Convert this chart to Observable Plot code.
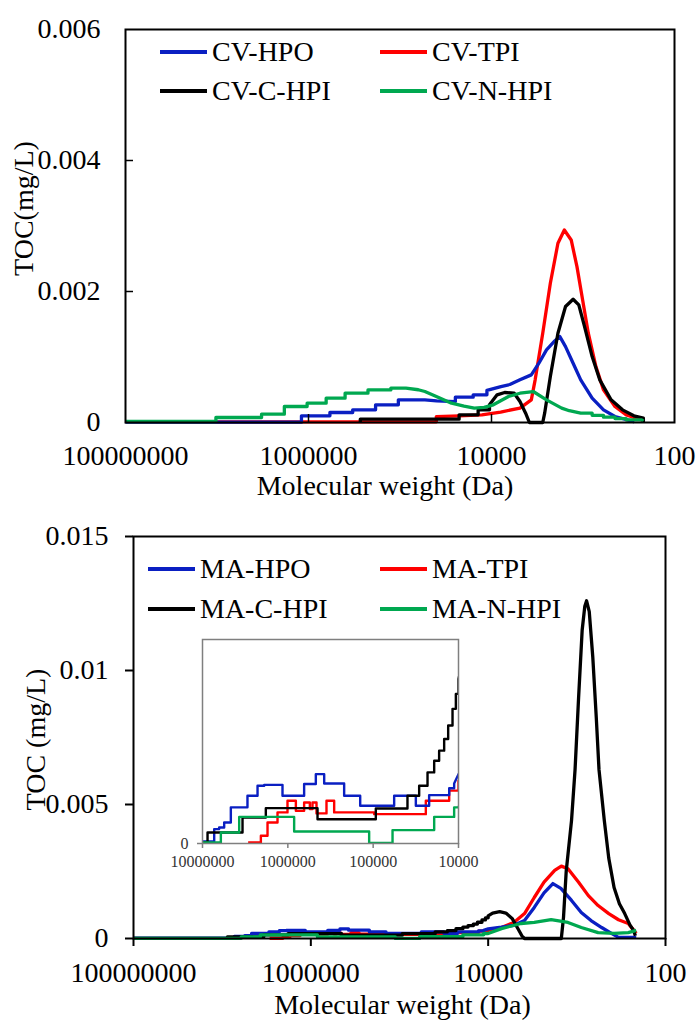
<!DOCTYPE html>
<html>
<head>
<meta charset="utf-8">
<script src="https://cdn.jsdelivr.net/npm/d3@7"></script>
<script src="https://cdn.jsdelivr.net/npm/@observablehq/plot@0.6"></script>
<style>
  html, body { margin: 0; padding: 0; background: #fff; }
  #page { position: relative; width: 697px; height: 1022px; overflow: hidden; background: #fff; }
  .layer { position: absolute; left: 0; }
  .leg { position: absolute; display: flex; align-items: center; font-family: 'Liberation Serif', 'Times New Roman', serif; font-size: 28px; line-height: 1; color: #000; white-space: nowrap; transform: translateY(-50%); }
  .leg .sw { display: inline-block; width: 47px; height: 3.5px; margin-right: 5px; }
</style>
</head>
<body>
<div id="page"></div>
<script>
// ---------- data (x = log10 molecular weight, y = TOC mg/L) ----------
const MW_TICKS = [1e8, 1e6, 1e4, 1e2];
const CV_TOC_TICKS = [0, 0.002, 0.004, 0.006];
const MA_TOC_TICKS = [0, 0.005, 0.01, 0.015];
const INSET_MW_TICKS = [1e7, 1e6, 1e5, 1e4];
const INSET_TOC_TICKS = [0];
const CV_NAMES = ["CV-HPO", "CV-TPI", "CV-C-HPI", "CV-N-HPI"];
const MA_NAMES = ["MA-HPO", "MA-TPI", "MA-C-HPI", "MA-N-HPI"];
const COLORS = ["#0a1fc2", "#ff0000", "#000000", "#00a850"];

const cvHPO = [[8,0.000005],[6.077,0.000005],[6.077,0.000102],[5.766,0.000102],[5.766,0.000153],[5.517,0.000153],[5.517,0.000193],[5.267,0.000193],[5.267,0.00027],[5.018,0.00027],[5.018,0.000346],[4.728,0.000346],[4.60,0.00033],[4.395,0.00032],[4.395,0.000386],[4.20,0.000386],[4.20,0.000422],[4.05,0.000422],[4.05,0.00049],[3.897,0.000549],[3.80,0.00058],[3.689,0.000651],[3.565,0.000727],[3.482,0.000905],[3.399,0.001109],[3.316,0.001236],[3.253,0.001312],[3.191,0.001159],[3.108,0.000905],[3.025,0.000651],[2.90,0.000371],[2.776,0.000193],[2.651,0.000092],[2.485,0.00003],[2.44,0.00001]];
const cvTPI = [[8,0.00001],[4.603,0.00001],[4.603,0.00009],[4.35,0.0001],[4.105,0.000117],[3.90,0.00016],[3.689,0.000219],[3.565,0.000346],[3.523,0.000651],[3.44,0.001363],[3.357,0.002125],[3.274,0.002736],[3.204,0.002939],[3.129,0.002787],[3.066,0.00238],[3.004,0.001871],[2.942,0.001363],[2.859,0.000854],[2.776,0.000498],[2.651,0.000244],[2.527,0.000117],[2.36,0.000041],[2.34,0.00001]];
const cvCHPI = [[5.434,0.000005],[5.434,0.000051],[4.354,0.000051],[4.354,0.000117],[4.146,0.000117],[4.146,0.000193],[4.022,0.000193],[4.022,0.00027],[3.939,0.000422],[3.856,0.000458],[3.752,0.000447],[3.689,0.00032],[3.627,0.000142],[3.586,0],[3.44,0],[3.419,0.000142],[3.357,0.000702],[3.274,0.001363],[3.191,0.00177],[3.108,0.001881],[3.046,0.001795],[2.983,0.001464],[2.90,0.001007],[2.817,0.000651],[2.693,0.000346],[2.568,0.000193],[2.444,0.000102],[2.34,0.000066],[2.34,0]];
const cvNHPI = [[8,0.000015],[7.012,0.000015],[7.012,0.000076],[6.513,0.000076],[6.513,0.000127],[6.264,0.000127],[6.264,0.000244],[6.015,0.000244],[6.015,0.000295],[5.807,0.000295],[5.807,0.000371],[5.60,0.000371],[5.60,0.000447],[5.35,0.000447],[5.35,0.000498],[5.10,0.000498],[5.10,0.000524],[4.935,0.000524],[4.80,0.0005],[4.728,0.000473],[4.603,0.000397],[4.437,0.000295],[4.30,0.00025],[4.188,0.000219],[4.08,0.00023],[3.98,0.00027],[3.814,0.000397],[3.689,0.000447],[3.544,0.000473],[3.399,0.000346],[3.233,0.000219],[3.15,0.00018],[3.025,0.000142],[2.90,0.000142],[2.90,0.00011],[2.776,0.00011],[2.776,0.000081],[2.65,0.000081],[2.65,0.00006],[2.527,0.00006],[2.527,0.00004],[2.36,0.00004],[2.34,0.00002]];

const maHPO = [[8,0.00001],[6.863,0.00001],[6.863,0.000074],[6.805,0.000074],[6.805,0.000082],[6.746,0.000082],[6.746,0.000108],[6.668,0.000108],[6.668,0.000186],[6.473,0.000186],[6.473,0.000246],[6.355,0.000246],[6.355,0.000297],[6.277,0.000297],[6.277,0.000302],[6.0625,0.000302],[6.0625,0.000246],[5.809,0.000246],[5.809,0.000306],[5.672,0.000306],[5.672,0.000357],[5.574,0.000357],[5.574,0.000309],[5.34,0.000309],[5.34,0.000246],[5.152,0.000246],[5.152,0.000194],[4.754,0.000194],[4.754,0.000246],[4.5,0.000246],[4.5,0.000194],[4.344,0.000194],[4.344,0.000249],[4.109,0.000249],[4.109,0.000284],[4.051,0.000284],[4.051,0.000309],[4.0,0.000357],[3.85,0.00042],[3.71,0.00049],[3.59,0.00067],[3.48,0.00116],[3.37,0.0017],[3.27,0.00205],[3.18,0.00187],[3.06,0.00142],[2.95,0.00097],[2.84,0.00067],[2.72,0.00041],[2.61,0.00019],[2.53,0.00004],[2.33,0.00004]];
const maTPI = [[6.465,0.000005],[6.316,0.000005],[6.316,0.00004],[6.238,0.00004],[6.238,0.000108],[6.121,0.000108],[6.121,0.00016],[6.004,0.00016],[6.004,0.00022],[5.906,0.00022],[5.906,0.000168],[5.809,0.000168],[5.809,0.000211],[5.742,0.000211],[5.742,0.000177],[5.711,0.000177],[5.711,0.000211],[5.664,0.000211],[5.664,0.000155],[5.547,0.000155],[5.547,0.00022],[5.457,0.00022],[5.457,0.00016],[4.988,0.00016],[4.988,0.000151],[4.383,0.000151],[4.383,0.00022],[4.109,0.00022],[4.109,0.000272],[4.0,0.000272],[4.0,0.000323],[3.85,0.00041],[3.71,0.0006],[3.59,0.00093],[3.48,0.00153],[3.37,0.0021],[3.25,0.00254],[3.175,0.0027],[3.10,0.0026],[2.98,0.0021],[2.87,0.0016],[2.76,0.00123],[2.64,0.00093],[2.53,0.0007],[2.42,0.00056],[2.33,0.00019]];
const maCHPI = [[8,0.000005],[6.941,0.000005],[6.941,0.000057],[6.531,0.000057],[6.531,0.000134],[6.258,0.000134],[6.258,0.000182],[5.652,0.000182],[5.652,0.000125],[4.969,0.000125],[4.969,0.00018],[4.598,0.00018],[4.598,0.000246],[4.461,0.000246],[4.461,0.000297],[4.363,0.000297],[4.363,0.000366],[4.285,0.000366],[4.285,0.000426],[4.227,0.000426],[4.227,0.000478],[4.168,0.000478],[4.168,0.000538],[4.121,0.000538],[4.121,0.000607],[4.07,0.000607],[4.07,0.000693],[4.031,0.000693],[4.031,0.00077],[4.0,0.00077],[4.0,0.000847],[3.95,0.00095],[3.87,0.001],[3.80,0.00095],[3.73,0.00075],[3.67,0.0004],[3.62,0.0001],[3.59,0],[3.175,0],[3.15,0.0008],[3.12,0.0025],[3.06,0.0044],[3.02,0.0063],[2.98,0.009],[2.94,0.0115],[2.91,0.0124],[2.89,0.0126],[2.86,0.0122],[2.82,0.0105],[2.78,0.0082],[2.75,0.0063],[2.69,0.0044],[2.64,0.003],[2.58,0.0019],[2.52,0.0013],[2.46,0.00093],[2.40,0.0005],[2.36,0.0003],[2.34,0.0001]];
const maNHPI = [[8,0.000005],[6.785,0.000005],[6.785,0.000057],[6.570,0.000057],[6.570,0.000137],[5.926,0.000137],[5.926,0.000062],[5.047,0.000062],[5.047,0.000003],[4.773,0.000003],[4.773,0.000069],[4.285,0.000069],[4.285,0.000137],[4.051,0.000137],[4.051,0.000186],[4.0,0.000186],[3.85,0.00037],[3.63,0.00056],[3.48,0.0006],[3.29,0.0007],[3.10,0.0006],[2.95,0.00041],[2.76,0.00022],[2.58,0.00019],[2.42,0.00022],[2.33,0.0003]];

const CV_SERIES = [cvHPO, cvTPI, cvCHPI, cvNHPI];
const MA_SERIES = [maHPO, maTPI, maCHPI, maNHPI];

// ---------- drawing ----------
const FONT = "'Liberation Serif', 'Times New Roman', serif";
const W = 697;
const fmtTOC = d => String(+d.toFixed(3));
const fmtMW = d => String(Math.round(d));
const DRAW_ORDER = [1, 0, 2, 3];

function seriesLines(list, strokeWidth, clip) {
  return DRAW_ORDER.map(i => Plot.line(list[i], {
    x: d => 10 ** d[0], y: d => d[1], stroke: COLORS[i],
    strokeWidth, strokeLinejoin: "round", strokeLinecap: "butt", clip
  }));
}

const page = document.getElementById("page");
function place(node, top, left = 0) {
  node.classList.add("layer");
  node.style.top = top + "px";
  node.style.left = left + "px";
  page.appendChild(node);
}

// top panel
const T = {h: 500, ml: 125, mr: 23, mt: 29, mb: 78};
const tFW = W - T.ml - T.mr, tFH = T.h - T.mt - T.mb;
const topPlot = Plot.plot({
  width: W, height: T.h, marginLeft: T.ml, marginRight: T.mr, marginTop: T.mt, marginBottom: T.mb,
  style: {background: "transparent", fontFamily: FONT, color: "#000", overflow: "visible"},
  x: {type: "log", domain: [1e8, 1e2]},
  y: {domain: [0, 0.006]},
  marks: [
    ...seriesLines(CV_SERIES, 3.3, false),
    Plot.frame({stroke: "#000", strokeWidth: 2}),
    Plot.tickY(CV_TOC_TICKS.slice(1, -1), {y: d => d, insetRight: tFW - 8, stroke: "#000", strokeWidth: 1.5}),
    Plot.tickX(MW_TICKS.slice(1, -1), {x: d => d, insetTop: tFH - 8, stroke: "#000", strokeWidth: 1.5}),
    Plot.axisY({ticks: CV_TOC_TICKS, tickSize: 0, tickPadding: 25, tickFormat: fmtTOC, fontSize: 28, fontFamily: FONT, label: null}),
    Plot.axisX({ticks: MW_TICKS, tickSize: 0, tickPadding: 23, tickFormat: fmtMW, fontSize: 28, fontFamily: FONT, label: null}),
    Plot.text(["TOC(mg/L)"], {text: d => d, frameAnchor: "top-left", dx: -101, dy: 179, rotate: -90, fontSize: 28, fontFamily: FONT, textAnchor: "middle", lineAnchor: "middle"}),
    Plot.text(["Molecular weight (Da)"], {text: d => d, frameAnchor: "bottom", dx: -15, dy: 64, fontSize: 28, fontFamily: FONT, lineAnchor: "middle"})
  ]
});
place(topPlot, 0);

// bottom panel
const B = {top: 500, h: 522, ml: 133, mr: 32, mt: 36, mb: 84};
const botPlot = Plot.plot({
  width: W, height: B.h, marginLeft: B.ml, marginRight: B.mr, marginTop: B.mt, marginBottom: B.mb,
  style: {background: "transparent", fontFamily: FONT, color: "#000", overflow: "visible"},
  x: {type: "log", domain: [1e8, 1e2]},
  y: {domain: [0, 0.015]},
  marks: [
    ...seriesLines(MA_SERIES, 3.3, false),
    Plot.frame({stroke: "#000", strokeWidth: 2}),
    Plot.axisY({ticks: MA_TOC_TICKS, tickSize: 8, tickPadding: 17, strokeWidth: 2, tickFormat: fmtTOC, fontSize: 28, fontFamily: FONT, label: null}),
    Plot.axisX({ticks: MW_TICKS, tickSize: 8, tickPadding: 16, strokeWidth: 2, tickFormat: fmtMW, fontSize: 28, fontFamily: FONT, label: null}),
    Plot.text(["TOC (mg/L)"], {text: d => d, frameAnchor: "top-left", dx: -97, dy: 203, rotate: -90, fontSize: 28, fontFamily: FONT, textAnchor: "middle", lineAnchor: "middle"}),
    Plot.text(["Molecular weight (Da)"], {text: d => d, frameAnchor: "bottom", dx: 3, dy: 67, fontSize: 28, fontFamily: FONT, lineAnchor: "middle"})
  ]
});
place(botPlot, B.top);

// inset (zoom of the bottom panel, 10^7 - 10^4 Da)
const I = {top: 600, h: 300, ml: 202, mr: 239, mt: 39, mb: 57};
const insetPlot = Plot.plot({
  width: W, height: I.h, marginLeft: I.ml, marginRight: I.mr, marginTop: I.mt, marginBottom: I.mb,
  style: {background: "transparent", fontFamily: FONT, color: "#333", overflow: "visible", pointerEvents: "none"},
  x: {type: "log", domain: [1e7, 1e4]},
  y: {domain: [0, 0.00105]},
  marks: [
    ...seriesLines(MA_SERIES, 2.4, true),
    Plot.frame({stroke: "#7f7f7f", strokeWidth: 1.5}),
    Plot.axisX({ticks: INSET_MW_TICKS, tickSize: 5, tickPadding: 7, stroke: "#7f7f7f", strokeWidth: 1.5, fill: "#333", tickFormat: fmtMW, fontSize: 16, fontFamily: FONT, label: null}),
    Plot.axisY({ticks: INSET_TOC_TICKS, tickSize: 5, tickPadding: 9, stroke: "#7f7f7f", strokeWidth: 1.5, fill: "#333", tickFormat: fmtTOC, fontSize: 16, fontFamily: FONT, label: null})
  ]
});
place(insetPlot, I.top);

// legends
function legend(names, rows) {
  names.forEach((name, i) => {
    const r = rows[i];
    const el = document.createElement("div");
    el.className = "leg";
    el.style.left = r[0] + "px";
    el.style.top = r[1] + "px";
    const sw = document.createElement("span");
    sw.className = "sw";
    sw.style.background = COLORS[i];
    const tx = document.createElement("span");
    tx.textContent = name;
    el.appendChild(sw); el.appendChild(tx);
    page.appendChild(el);
  });
}
legend(CV_NAMES, [[160, 52], [380, 52], [160, 91], [380, 91]]);
legend(MA_NAMES, [[148, 569], [380, 569], [148, 609], [380, 609]]);
</script>
</body>
</html>
